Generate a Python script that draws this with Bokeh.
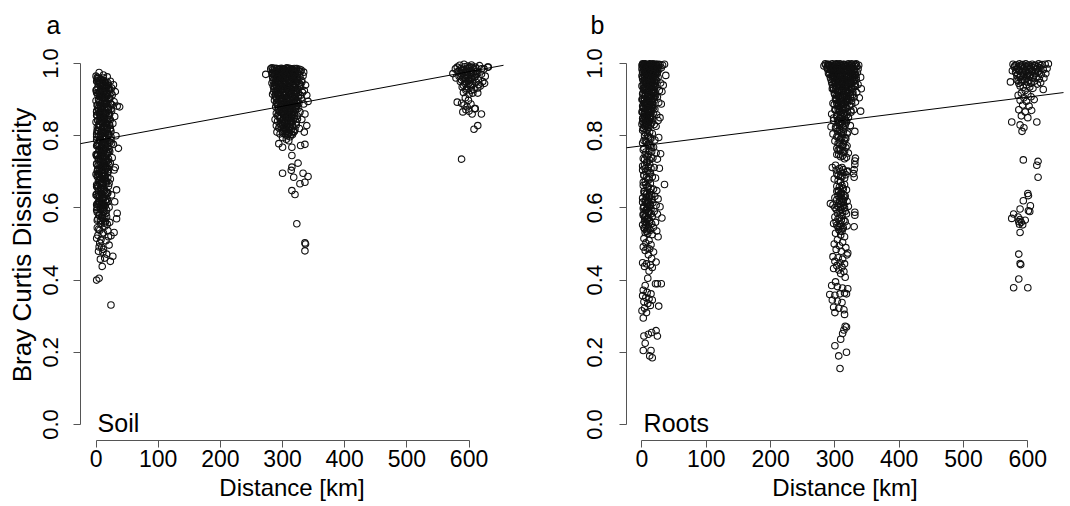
from bokeh.plotting import figure
from bokeh.layouts import row
from bokeh.models import Slope, Label, FixedTicker, PrintfTickFormatter
from bokeh.embed import file_html
from bokeh.resources import INLINE

# ---------------- data (distance in km, Bray Curtis dissimilarity) ----------------
distance_ticks = [0, 100, 200, 300, 400, 500, 600]
dissimilarity_ticks = [0.0, 0.2, 0.4, 0.6, 0.8, 1.0]

soil_intercept = 0.786
soil_slope = 0.000319
roots_intercept = 0.772
roots_slope = 0.000225

soil_0km = [
    (5, .975), (12, .968), (18, .963), (2, .958), (9, .955), (23, .951), (15, .947), (7, .944), (28, .941), (11, .937),
    (3, .934), (20, .931), (8, .928), (14, .925), (31, .922), (1, .919), (17, .916), (26, .913), (6, .910), (10, .906),
    (22, .903), (4, .900), (13, .897), (29, .894), (9, .891), (16, .888), (2, .885), (34, .882), (19, .878), (7, .875),
    (11, .872), (25, .869), (1, .866), (15, .862), (6, .859), (21, .856), (30, .853), (8, .850), (13, .846), (3, .843),
    (18, .840), (10, .837), (27, .834), (5, .831), (14, .827), (38, .880), (2, .824), (23, .821), (9, .818), (16, .815),
    (4, .812), (12, .809), (20, .806), (7, .803), (32, .800), (1, .797), (17, .794), (11, .791), (24, .788), (6, .785),
    (14, .782), (3, .779), (28, .776), (9, .773), (19, .770), (36, .765), (5, .762), (13, .759), (22, .756), (8, .752),
    (2, .749), (16, .746), (11, .742), (26, .739), (4, .735), (18, .732), (7, .728), (31, .712), (12, .725), (1, .721),
    (21, .718), (9, .714), (15, .711), (3, .707), (6, .703), (19, .700), (10, .696), (29, .705), (2, .692), (14, .688),
    (8, .684), (23, .680), (5, .676), (17, .672), (11, .668), (1, .664), (20, .660), (7, .656), (13, .652), (33, .650),
    (4, .647), (16, .643), (9, .639), (25, .636), (2, .632), (12, .628), (18, .624), (6, .620), (30, .617), (10, .613),
    (3, .609), (15, .606), (21, .602), (8, .598), (1, .594), (13, .590), (34, .585), (5, .580), (17, .576), (11, .571),
    (33, .570), (2, .566), (22, .560), (8, .555), (14, .549), (4, .541), (19, .537), (29, .532), (10, .528), (24, .523),
    (1, .516), (16, .509), (6, .503), (21, .497), (9, .491), (12, .485), (4, .480), (17, .472), (27, .466), (14, .461),
    (23, .452), (10, .438), (1, .400), (5, .405), (24, .331), (13, .760), (6, .840), (10, .925), (4, .953), (8, .880),
    (3, .948), (8, .915), (14, .898), (20, .872), (6, .864), (11, .852), (17, .833), (2, .815), (9, .806), (15, .790),
    (22, .782), (5, .771), (12, .764), (18, .751), (1, .744), (7, .737), (13, .722), (20, .706), (4, .695), (10, .688),
    (16, .677), (3, .655), (8, .642), (14, .631), (19, .618), (6, .611), (11, .596), (2, .588), (9, .575), (15, .562),
    (12, .960), (17, .942), (24, .918), (26, .885), (21, .845), (7, .858), (4, .876), (13, .905), (10, .945), (16, .930),
    (2, .545), (6, .538), (12, .531), (3, .524), (8, .512), (5, .492), (11, .478), (7, .458), (18, .555), (20, .520),
]

soil_0km_core = [
    (2, .962), (7, .957), (13, .952), (19, .946), (4, .943), (10, .938), (16, .934), (22, .929), (1, .927), (6, .923),
    (12, .920), (18, .917), (3, .913), (9, .909), (15, .906), (21, .901), (5, .898), (11, .894), (17, .891), (24, .887),
    (2, .884), (8, .881), (14, .877), (20, .874), (4, .870), (10, .867), (16, .863), (22, .860), (1, .857), (7, .853),
    (13, .849), (19, .845), (3, .842), (9, .838), (15, .835), (21, .831), (5, .828), (11, .824), (17, .820), (23, .817),
    (2, .813), (8, .810), (14, .806), (20, .802), (4, .799), (10, .795), (16, .791), (1, .788), (7, .784), (13, .780),
    (19, .777), (3, .773), (9, .769), (15, .766), (21, .762), (5, .758), (11, .755), (17, .751), (2, .747), (8, .744),
    (14, .740), (20, .736), (4, .733), (10, .729), (16, .725), (1, .722), (7, .718), (12, .714), (18, .711), (3, .707),
    (9, .703), (14, .699), (5, .695), (11, .691), (2, .687), (7, .683), (13, .679), (4, .675), (9, .671), (6, .667),
    (3, .662), (8, .655), (12, .649), (17, .644), (1, .638), (6, .633), (11, .627), (15, .622), (4, .617), (9, .612),
    (13, .606), (2, .601), (7, .596), (12, .591), (16, .585), (5, .580), (10, .574), (3, .569), (8, .563), (14, .558),
    (1, .951), (6, .947), (11, .942), (16, .936), (21, .925), (3, .918), (8, .911), (13, .903), (18, .896), (23, .889),
    (5, .882), (10, .876), (15, .869), (20, .861), (2, .855), (7, .848), (12, .841), (17, .836), (22, .829), (4, .822),
    (9, .816), (14, .809), (19, .803), (24, .797), (6, .790), (11, .783), (16, .778), (1, .772), (8, .765), (13, .758),
    (18, .753), (3, .746), (10, .740), (15, .734), (20, .727), (5, .721), (12, .716), (17, .709), (2, .702), (9, .697),
    (14, .690), (19, .684), (6, .678), (11, .671), (16, .666), (1, .659), (8, .652), (13, .646), (18, .640), (4, .634),
    (10, .628), (15, .620), (3, .613), (8, .607), (12, .601), (17, .594), (5, .588), (10, .581), (14, .573), (7, .566),
    (0, .965), (4, .959), (9, .953), (14, .949), (20, .940), (25, .932), (0, .926), (5, .921), (11, .916), (17, .909),
    (22, .905), (0, .897), (6, .893), (12, .887), (19, .880), (24, .874), (1, .868), (7, .862), (13, .858), (18, .851),
    (23, .844), (0, .838), (6, .832), (12, .826), (18, .819), (24, .812), (1, .805), (7, .799), (13, .793), (19, .786),
    (25, .779), (2, .774), (8, .768), (14, .761), (20, .755), (0, .748), (6, .741), (12, .736), (17, .730), (23, .724),
    (3, .717), (8, .711), (14, .705), (19, .698), (0, .693), (5, .686), (11, .680), (16, .674), (21, .668), (3, .661),
    (9, .655), (14, .648), (19, .642), (0, .636), (6, .629), (12, .623), (17, .616), (1, .609), (7, .603), (12, .597),
]

soil_300km = [
    (273, .970), (281, .985), (286, .980), (290, .986), (294, .982), (298, .987), (302, .983), (306, .986), (310, .981), (314, .985),
    (318, .980), (322, .984), (326, .979), (330, .982), (334, .976), (283, .974), (288, .970), (292, .975), (296, .968), (300, .972),
    (304, .966), (308, .973), (312, .967), (316, .971), (320, .964), (324, .969), (328, .962), (333, .966), (285, .960), (290, .955),
    (294, .962), (298, .957), (302, .951), (306, .958), (310, .953), (314, .948), (318, .956), (322, .950), (327, .945), (331, .953),
    (337, .940), (283, .946), (288, .941), (292, .948), (296, .943), (300, .937), (304, .944), (308, .939), (312, .933), (316, .941),
    (320, .935), (324, .930), (329, .938), (335, .925), (286, .930), (290, .925), (294, .932), (298, .927), (302, .921), (306, .928),
    (310, .922), (314, .917), (318, .924), (322, .918), (326, .912), (332, .920), (339, .912), (284, .915), (288, .910), (292, .917),
    (296, .911), (300, .905), (304, .912), (308, .906), (312, .900), (316, .908), (320, .902), (325, .896), (330, .904), (287, .898),
    (291, .893), (295, .900), (299, .894), (303, .888), (307, .895), (311, .889), (315, .883), (319, .890), (323, .884), (334, .888),
    (341, .895), (289, .880), (293, .875), (297, .882), (301, .876), (305, .870), (309, .877), (313, .871), (317, .865), (321, .872),
    (328, .866), (336, .860), (290, .862), (294, .857), (298, .864), (302, .858), (306, .852), (310, .859), (314, .853), (318, .847),
    (324, .855), (331, .845), (288, .845), (292, .840), (296, .847), (300, .841), (304, .835), (308, .842), (312, .836), (316, .830),
    (322, .838), (339, .828), (290, .828), (294, .822), (298, .829), (302, .823), (306, .817), (310, .824), (314, .818), (319, .812),
    (327, .820), (335, .810), (291, .810), (296, .805), (300, .812), (304, .806), (308, .800), (312, .797), (316, .803), (300, .795),
    (306, .790), (310, .786), (294, .778), (300, .768), (315, .768), (329, .773), (336, .776), (315, .745), (325, .724), (315, .713),
    (314, .704), (300, .696), (318, .685), (333, .696), (341, .687), (336, .671), (328, .667), (315, .648), (320, .637), (323, .556),
    (336, .503), (337, .500), (336, .481),
]

soil_300km_core = [
    (284, .983), (289, .979), (293, .984), (297, .978), (301, .985), (305, .979), (309, .984), (313, .978), (317, .983), (321, .977),
    (286, .968), (291, .964), (295, .969), (299, .963), (303, .969), (307, .963), (311, .968), (315, .962), (319, .967), (323, .961),
    (285, .952), (289, .948), (293, .953), (297, .947), (301, .943), (305, .949), (309, .944), (313, .950), (317, .945), (321, .941),
    (287, .936), (291, .932), (295, .937), (299, .931), (303, .935), (307, .929), (311, .934), (315, .928), (319, .932), (323, .926),
    (289, .920), (293, .915), (297, .919), (301, .913), (305, .918), (309, .912), (313, .916), (317, .910), (321, .914), (325, .908),
    (290, .903), (294, .898), (298, .902), (302, .896), (306, .900), (310, .894), (314, .898), (318, .892), (322, .896), (293, .886),
    (297, .880), (301, .884), (305, .878), (309, .882), (313, .876), (317, .880), (321, .874), (295, .868), (299, .863), (303, .867),
    (307, .861), (311, .865), (315, .859), (319, .863), (297, .850), (301, .845), (305, .849), (309, .843), (313, .847), (317, .841),
    (296, .834), (300, .829), (304, .833), (308, .827), (312, .831), (316, .825), (302, .815), (307, .812), (311, .808), (305, .802),
    (287, .987), (295, .985), (303, .982), (311, .987), (319, .986), (327, .984), (284, .972), (292, .966), (300, .960), (308, .970),
    (316, .958), (324, .955), (288, .951), (296, .940), (304, .929), (312, .945), (320, .924), (328, .935), (286, .921), (294, .912),
    (302, .905), (310, .917), (318, .899), (326, .889), (290, .891), (298, .872), (306, .884), (314, .866), (322, .880), (292, .855),
    (300, .862), (308, .850), (316, .856), (324, .846), (296, .826), (304, .820), (312, .824), (320, .818), (300, .808), (314, .804),
    (283, .988), (291, .986), (299, .984), (307, .988), (315, .984), (323, .986), (329, .978), (287, .975), (295, .973), (303, .976),
    (311, .974), (319, .972), (327, .970), (284, .962), (292, .958), (300, .965), (308, .956), (316, .964), (324, .958), (331, .948),
    (288, .944), (296, .952), (304, .940), (312, .957), (320, .946), (328, .942), (285, .938), (293, .925), (301, .930), (309, .925),
    (317, .936), (325, .920), (289, .909), (297, .905), (305, .911), (313, .905), (321, .907), (329, .912), (291, .887), (299, .885),
    (307, .889), (315, .891), (323, .890), (293, .870), (301, .869), (309, .868), (317, .872), (325, .875), (295, .852), (303, .857),
    (311, .852), (319, .850), (298, .838), (306, .838), (314, .838), (322, .830), (302, .822), (310, .816), (318, .810), (309, .805),
]

soil_600km = [
    (578, .985), (585, .995), (592, .998), (598, .993), (604, .996), (610, .990), (617, .994), (624, .985), (630, .990), (582, .978),
    (588, .982), (595, .975), (601, .980), (607, .972), (613, .978), (620, .970), (626, .965), (584, .965), (590, .960), (597, .968),
    (603, .958), (609, .962), (615, .955), (622, .950), (586, .950), (593, .945), (599, .952), (605, .942), (611, .948), (618, .938),
    (625, .945), (589, .935), (596, .930), (602, .938), (608, .928), (614, .932), (591, .920), (600, .915), (606, .918), (594, .905),
    (599, .898), (581, .893), (588, .890), (592, .885), (597, .880), (603, .888), (609, .875), (600, .868), (590, .866), (605, .860),
    (620, .860), (614, .918), (614, .828), (608, .818), (588, .735), (574, .972), (596, .985), (607, .985), (620, .985), (594, .958),
    (612, .970), (600, .945), (616, .942), (631, .990), (603, .925), (595, .872), (610, .875), (579, .960), (587, .972), (601, .990),
    (581, .990), (587, .986), (593, .991), (599, .987), (605, .990), (611, .986), (584, .978), (590, .974), (596, .979), (602, .975),
    (608, .978), (614, .973), (586, .966), (592, .962), (598, .966), (604, .962), (610, .965), (588, .954), (594, .950), (600, .955),
    (606, .951), (591, .940), (597, .936), (603, .941), (595, .926),
]

roots_0km = [
    (1, .999), (4, .998), (8, .997), (12, .999), (16, .996), (20, .998), (24, .994), (28, .997), (32, .995), (35, .998),
    (2, .992), (6, .990), (10, .993), (14, .988), (18, .991), (22, .986), (26, .983), (30, .988), (3, .982), (9, .984),
    (13, .979), (17, .981), (21, .975), (5, .976), (11, .972), (15, .969), (19, .966), (25, .962), (37, .967), (7, .964),
    (1, .958), (4, .955), (8, .951), (12, .957), (16, .948), (20, .944), (23, .952), (29, .946), (33, .940), (2, .941),
    (6, .936), (10, .932), (14, .938), (18, .929), (27, .925), (31, .922), (3, .926), (9, .919), (13, .915), (17, .920),
    (21, .911), (24, .907), (5, .912), (11, .904), (15, .900), (19, .897), (1, .902), (7, .895), (26, .892), (30, .888),
    (4, .889), (8, .885), (12, .882), (16, .878), (20, .874), (2, .876), (6, .870), (10, .866), (14, .872), (18, .862),
    (23, .858), (28, .850), (3, .860), (9, .855), (13, .851), (17, .846), (1, .848), (5, .843), (11, .839), (15, .835),
    (19, .831), (22, .826), (25, .842), (7, .828), (2, .820), (8, .815), (12, .810), (16, .806), (4, .800), (10, .796),
    (14, .792), (20, .788), (26, .795), (6, .785), (1, .780), (9, .776), (13, .772), (18, .768), (3, .765), (11, .760),
    (15, .756), (22, .752), (29, .750), (5, .748), (8, .742), (2, .737), (12, .733), (17, .738), (7, .726), (24, .735),
    (4, .718), (10, .714), (14, .710), (19, .712), (27, .710), (1, .705), (6, .700), (11, .696), (3, .690), (16, .686),
    (9, .680), (21, .683), (5, .672), (13, .668), (2, .662), (8, .658), (35, .665), (18, .652), (23, .648), (12, .644),
    (4, .640), (15, .636), (20, .632), (7, .628), (25, .625), (10, .620), (1, .616), (17, .614), (13, .610), (22, .607),
    (3, .604), (9, .600), (28, .603), (14, .597), (6, .593), (19, .590), (11, .586), (24, .583), (2, .580), (16, .577),
    (31, .572), (8, .570), (12, .566), (5, .562), (21, .560), (15, .556), (1, .553), (10, .550), (18, .546), (4, .542),
    (13, .538), (7, .535), (23, .536), (9, .530), (16, .526), (25, .520), (3, .515), (11, .510), (6, .503), (14, .498),
    (2, .492), (8, .489), (12, .486), (5, .482), (18, .478), (10, .470), (15, .460), (22, .450), (1, .448), (7, .445),
    (13, .442), (4, .438), (16, .435), (11, .425), (9, .405), (21, .390), (24, .390), (30, .390), (5, .385), (2, .372),
    (8, .366), (14, .362), (1, .357), (6, .352), (11, .348), (16, .345), (3, .340), (9, .335), (13, .330), (26, .328),
    (4, .322), (0, .315), (7, .310), (2, .295), (3, .245), (5, .225), (2, .205), (14, .205), (10, .250), (15, .255),
    (22, .260), (24, .245), (12, .190), (16, .185),
]

roots_0km_core = [
    (3, .996), (7, .993), (11, .995), (15, .992), (19, .994), (23, .990), (2, .987), (6, .984), (10, .986), (14, .983),
    (18, .980), (22, .978), (1, .975), (5, .972), (9, .974), (13, .970), (17, .967), (21, .963), (4, .961), (8, .958),
    (12, .954), (16, .951), (20, .949), (3, .946), (7, .943), (11, .940), (15, .937), (19, .934), (2, .931), (6, .928),
    (10, .925), (14, .922), (18, .919), (1, .916), (5, .913), (9, .910), (13, .907), (17, .904), (4, .901), (8, .898),
    (12, .895), (16, .892), (3, .889), (7, .886), (11, .883), (15, .880), (2, .877), (6, .874), (10, .871), (14, .868),
    (1, .865), (5, .862), (9, .859), (13, .856), (4, .853), (8, .850), (12, .847), (3, .844), (7, .841), (11, .838),
    (2, .835), (6, .832), (10, .829), (5, .826), (9, .823), (16, .886), (20, .918), (22, .955), (24, .975), (26, .995),
    (3, .645), (7, .638), (11, .631), (15, .624), (5, .617), (9, .611), (13, .605), (2, .599), (6, .594), (10, .589),
    (14, .584), (4, .574), (8, .568), (12, .561), (6, .552), (3, .545), (9, .539), (5, .532), (11, .544), (7, .558),
    (2, .997), (6, .994), (10, .990), (14, .996), (18, .993), (22, .998), (4, .981), (8, .977), (12, .985), (16, .973),
    (20, .982), (1, .962), (5, .952), (9, .965), (13, .945), (17, .958), (21, .938), (3, .933), (7, .921), (11, .914),
    (15, .927), (19, .908), (2, .899), (6, .891), (10, .903), (14, .884), (18, .877), (4, .869), (8, .861), (12, .874),
    (16, .853), (1, .840), (5, .835), (9, .845), (13, .829), (3, .821), (7, .612), (11, .603), (5, .585), (9, .572),
    (0, .995), (5, .999), (9, .996), (13, .998), (17, .999), (21, .995), (25, .998), (0, .985), (4, .991), (8, .988),
    (12, .990), (16, .986), (20, .988), (24, .985), (1, .978), (6, .980), (10, .977), (14, .975), (18, .972), (23, .970),
    (0, .966), (4, .968), (8, .964), (12, .962), (16, .960), (20, .957), (2, .953), (6, .950), (10, .947), (14, .945),
    (18, .941), (0, .938), (4, .935), (8, .932), (12, .929), (16, .925), (20, .922), (2, .918), (6, .914), (10, .911),
    (14, .908), (18, .905), (0, .900), (4, .896), (8, .893), (12, .889), (16, .885), (1, .882), (5, .878), (9, .875),
    (13, .872), (0, .866), (4, .861), (8, .857), (12, .853), (2, .849), (6, .845), (10, .841), (0, .832), (4, .827),
]

roots_0km_mid = [
    (1, .815), (5, .808), (9, .801), (13, .795), (3, .787), (7, .781), (11, .774), (15, .768), (2, .761), (6, .755),
    (10, .748), (14, .741), (4, .734), (8, .728), (12, .721), (1, .716), (5, .709), (9, .703), (13, .697), (3, .691),
    (7, .685), (11, .678), (2, .671), (6, .665), (10, .659), (14, .653), (4, .647), (8, .641), (12, .634), (1, .627),
    (5, .621), (9, .615), (13, .609), (3, .602), (7, .596), (11, .590), (2, .583), (6, .577), (10, .571), (4, .564),
]

roots_300km = [
    (283, .993), (290, .998), (296, .999), (302, .997), (308, .999), (314, .998), (320, .996), (326, .999), (332, .997), (337, .995),
    (288, .990), (294, .988), (300, .992), (306, .986), (312, .990), (318, .985), (324, .988), (330, .983), (298, .980), (304, .976),
    (310, .979), (316, .974), (322, .977), (328, .970), (335, .975), (292, .975), (297, .968), (303, .964), (309, .968), (315, .962),
    (321, .965), (327, .958), (333, .955), (340, .962), (299, .957), (305, .952), (311, .955), (317, .949), (323, .945), (329, .950),
    (336, .942), (301, .944), (307, .938), (313, .942), (319, .935), (325, .932), (331, .936), (341, .930), (296, .930), (304, .925),
    (310, .922), (316, .926), (322, .918), (328, .914), (334, .920), (300, .915), (306, .910), (312, .907), (318, .903), (324, .908),
    (338, .905), (302, .900), (308, .895), (314, .892), (320, .897), (326, .888), (332, .893), (297, .890), (305, .884), (311, .880),
    (317, .876), (323, .882), (329, .872), (340, .868), (300, .872), (307, .866), (313, .862), (319, .858), (325, .865), (295, .860),
    (303, .853), (309, .848), (315, .845), (321, .850), (298, .842), (306, .836), (312, .832), (318, .838), (324, .828), (294, .825),
    (302, .820), (308, .815), (314, .818), (320, .810), (331, .812), (297, .805), (305, .800), (311, .796), (317, .792), (300, .785),
    (307, .780), (313, .776), (319, .772), (303, .765), (309, .760), (315, .757), (321, .752), (306, .748), (312, .744), (318, .740),
    (332, .738), (331, .730), (331, .720), (330, .706), (329, .695), (330, .685), (296, .712), (302, .705), (308, .700), (314, .698),
    (320, .702), (305, .690), (311, .686), (317, .692), (299, .680), (309, .672), (315, .665), (303, .660), (312, .655), (318, .650),
    (306, .645), (310, .638), (316, .633), (300, .628), (313, .622), (319, .618), (293, .612), (297, .608), (304, .605), (309, .602),
    (315, .600), (321, .604), (302, .596), (307, .592), (312, .588), (318, .584), (331, .588), (331, .580), (300, .575), (305, .570),
    (310, .566), (316, .562), (298, .557), (303, .552), (308, .548), (313, .545), (319, .550), (330, .548), (306, .540), (311, .535),
    (301, .530), (309, .525), (315, .520), (304, .512), (312, .505), (299, .500), (307, .495), (317, .490), (302, .485), (310, .480),
    (320, .475), (319, .470), (297, .465), (305, .462), (312, .458), (300, .452), (308, .448), (315, .445), (303, .440), (311, .436),
    (298, .432), (306, .428), (314, .424), (309, .418), (316, .408), (301, .395), (295, .385), (304, .382), (312, .378), (320, .376),
    (292, .360), (300, .358), (308, .362), (315, .364), (318, .362), (296, .345), (304, .342), (311, .338), (298, .325), (306, .322),
    (314, .318), (300, .310), (315, .305), (316, .272), (318, .270), (314, .262), (312, .252), (309, .236), (300, .218), (318, .200),
    (306, .190), (308, .155),
]

roots_300km_core = [
    (286, .996), (292, .994), (298, .996), (304, .993), (310, .995), (316, .992), (322, .994), (328, .991), (334, .993), (289, .984),
    (295, .981), (301, .985), (307, .980), (313, .983), (319, .979), (325, .982), (331, .978), (291, .970), (297, .966), (303, .971),
    (309, .965), (315, .969), (321, .963), (327, .967), (333, .961), (294, .956), (300, .952), (306, .957), (312, .951), (318, .955),
    (324, .949), (330, .953), (296, .942), (302, .938), (308, .943), (314, .937), (320, .941), (326, .935), (332, .939), (298, .928),
    (304, .924), (310, .929), (316, .923), (322, .927), (328, .921), (300, .914), (306, .910), (312, .915), (318, .909), (324, .913),
    (330, .907), (302, .899), (308, .894), (314, .899), (320, .893), (326, .897), (299, .886), (305, .881), (311, .885), (317, .879),
    (323, .883), (301, .871), (307, .867), (313, .871), (319, .865), (325, .869), (303, .857), (309, .853), (315, .857), (321, .851),
    (305, .843), (311, .839), (317, .843), (307, .829), (313, .825), (304, .812), (310, .807), (316, .795), (308, .788), (312, .770),
    (305, .648), (310, .642), (314, .636), (308, .630), (303, .623), (311, .617), (306, .611), (313, .606), (300, .601), (309, .596),
    (316, .591), (304, .585), (311, .579), (307, .572), (314, .566), (302, .561), (309, .556), (305, .548), (312, .542), (308, .536),
    (289, .997), (295, .993), (301, .998), (307, .994), (313, .997), (319, .993), (325, .996), (331, .992), (293, .982), (299, .977),
    (305, .983), (311, .976), (317, .981), (323, .975), (329, .979), (296, .964), (302, .959), (308, .965), (314, .958), (320, .962),
    (326, .956), (299, .946), (305, .941), (311, .947), (317, .940), (323, .944), (301, .928), (307, .923), (313, .930), (319, .925),
    (303, .911), (309, .906), (315, .912), (321, .904), (305, .892), (311, .888), (317, .894), (307, .875), (313, .870), (309, .858),
    (285, .999), (291, .996), (297, .993), (303, .999), (309, .996), (315, .993), (321, .999), (327, .996), (333, .999), (288, .987),
    (294, .984), (300, .988), (306, .983), (312, .987), (318, .982), (324, .986), (330, .981), (336, .985), (290, .974), (296, .971),
    (302, .975), (308, .971), (314, .976), (320, .970), (326, .973), (332, .969), (293, .961), (299, .962), (305, .966), (311, .961),
    (317, .966), (323, .960), (329, .963), (295, .948), (301, .949), (307, .952), (313, .947), (319, .951), (325, .946), (331, .944),
    (297, .934), (303, .933), (309, .936), (315, .932), (321, .934), (327, .928), (299, .918), (305, .919), (311, .922), (317, .917),
    (323, .919), (301, .903), (307, .903), (313, .905), (319, .901), (303, .889), (309, .889), (315, .887), (305, .874), (311, .876),
]

roots_300km_mid = [
    (298, .849), (304, .843), (310, .836), (316, .830), (301, .823), (307, .817), (313, .811), (319, .805), (303, .798), (309, .792),
    (315, .786), (305, .779), (311, .773), (317, .767), (307, .761), (313, .754), (303, .748), (309, .742), (315, .736), (305, .760),
    (311, .712), (301, .718), (307, .709), (313, .706), (319, .700), (303, .694), (309, .688), (315, .682), (305, .676), (311, .662),
    (307, .658), (313, .652), (303, .646), (309, .640), (315, .628), (305, .634), (311, .625), (307, .620), (313, .615), (309, .610),
]

roots_600km = [
    (577, .998), (582, .996), (587, .999), (592, .997), (597, .999), (602, .996), (607, .998), (612, .995), (617, .999), (622, .997),
    (627, .998), (632, .999), (579, .990), (584, .987), (589, .992), (594, .988), (599, .991), (604, .986), (609, .990), (614, .985),
    (619, .988), (624, .983), (630, .986), (576, .980), (581, .976), (586, .981), (591, .977), (596, .979), (601, .974), (606, .978),
    (611, .972), (616, .976), (621, .970), (628, .972), (583, .966), (588, .962), (593, .968), (598, .963), (603, .966), (608, .960),
    (613, .963), (618, .957), (625, .960), (585, .952), (590, .948), (595, .954), (600, .949), (605, .945), (610, .951), (615, .943),
    (620, .947), (573, .949), (588, .938), (593, .934), (598, .940), (603, .935), (608, .931), (624, .928), (596, .925), (583, .955),
    (590, .918), (585, .912), (600, .915), (594, .905), (605, .908), (588, .898), (598, .895), (610, .900), (592, .885), (602, .882),
    (586, .872), (596, .866), (606, .870), (590, .855), (600, .850), (614, .838), (575, .838), (588, .830), (594, .822), (591, .812),
    (593, .733), (616, .729), (614, .718), (616, .685), (600, .640), (601, .634), (593, .620), (604, .606), (601, .592), (603, .590),
    (588, .597), (578, .583), (585, .575), (588, .568), (590, .560), (587, .555), (592, .553), (586, .562), (575, .571), (596, .566),
    (588, .532), (586, .472), (588, .446), (589, .443), (586, .403), (578, .379), (600, .379),
    (580, .994), (585, .991), (590, .995), (595, .992), (600, .995), (605, .991), (610, .994), (615, .991), (620, .994), (582, .983),
    (587, .979), (592, .984), (597, .980), (602, .983), (607, .979), (612, .982), (617, .979), (584, .970), (589, .966), (594, .971),
    (599, .967), (604, .970), (609, .966), (591, .956), (597, .958), (602, .953), (586, .945),
]

# ---------------- layout constants ----------------
FONT = "Liberation Sans"
Y_START, Y_END = -0.0443, 1.0388
AXIS_GREY = "#555555"


def make_panel(points, intercept, slope, letter, tag, width, left, right, x_range, ylabel,
               letter_offset, tick_standoff):
    p = figure(width=width, height=505, x_range=x_range, y_range=(Y_START, Y_END),
               title=letter, output_backend="svg", toolbar_location=None,
               min_border_left=left, min_border_right=right, min_border_top=49, min_border_bottom=65)
    p.grid.visible = False
    p.outline_line_color = None
    p.background_fill_color = "white"
    p.border_fill_color = "white"

    p.title.text_font = FONT
    p.title.text_font_size = "25px"
    p.title.text_font_style = "normal"
    p.title.text_color = "black"
    p.title.align = "left"
    p.title.offset = letter_offset
    p.title.vertical_align = "top"
    p.title.standoff = 18

    xs = [d for d, _ in points]
    ys = [b for _, b in points]
    p.scatter(xs, ys, marker="circle", size=6.5, fill_color=None, line_color="#111111", line_width=1.1)
    p.add_layout(Slope(gradient=slope, y_intercept=intercept, line_color="black", line_width=1))

    xa = p.xaxis[0]
    xa.ticker = FixedTicker(ticks=distance_ticks)
    xa.bounds = (0, 600)
    ya = p.yaxis[0]
    ya.ticker = FixedTicker(ticks=dissimilarity_ticks)
    ya.formatter = PrintfTickFormatter(format="%.1f")
    ya.bounds = (0, 1)
    ya.major_label_orientation = "vertical"
    for ax in (xa, ya):
        ax.axis_line_color = AXIS_GREY
        ax.axis_line_width = 1
        ax.major_tick_line_color = AXIS_GREY
        ax.major_tick_out = 7
        ax.major_tick_in = 0
        ax.minor_tick_out = 0
        ax.minor_tick_in = 0
        ax.major_label_text_font = FONT
        ax.major_label_text_color = "black"
        ax.axis_label_text_font = FONT
        ax.axis_label_text_font_style = "normal"
        ax.axis_label_text_color = "black"
    xa.major_label_text_font_size = "23px"
    ya.major_label_text_font_size = "22px"
    xa.major_label_standoff = 2
    xa.axis_label = "Distance [km]"
    xa.axis_label_text_font_size = "24px"
    xa.axis_label_standoff = 4
    ya.major_label_standoff = tick_standoff
    if ylabel:
        ya.axis_label = ylabel
        ya.axis_label_text_font_size = "26px"
        ya.axis_label_standoff = 4

    p.add_layout(Label(x=2.5, y=0.004, text=tag, text_font=FONT, text_font_size="25px",
                       text_align="left", text_baseline="alphabetic", text_color="black"))
    return p


soil_points = soil_0km + soil_0km_core + soil_300km + soil_300km_core + soil_600km
roots_points = (roots_0km + roots_0km_core + roots_0km_mid + roots_300km + roots_300km_core
                + roots_300km_mid + roots_600km)

pa = make_panel(soil_points, soil_intercept, soil_slope, "a", "Soil",
                width=560, left=80, right=57, x_range=(-25.0, 655.4),
                ylabel="Bray Curtis Dissimilarity", letter_offset=-34, tick_standoff=15)
pb = make_panel(roots_points, roots_intercept, roots_slope, "b", "Roots",
                width=508, left=66, right=5, x_range=(-24.1, 655.5),
                ylabel=None, letter_offset=-36, tick_standoff=17)

layout = row(pa, pb)
open("out.html", "w").write(file_html(layout, INLINE))
